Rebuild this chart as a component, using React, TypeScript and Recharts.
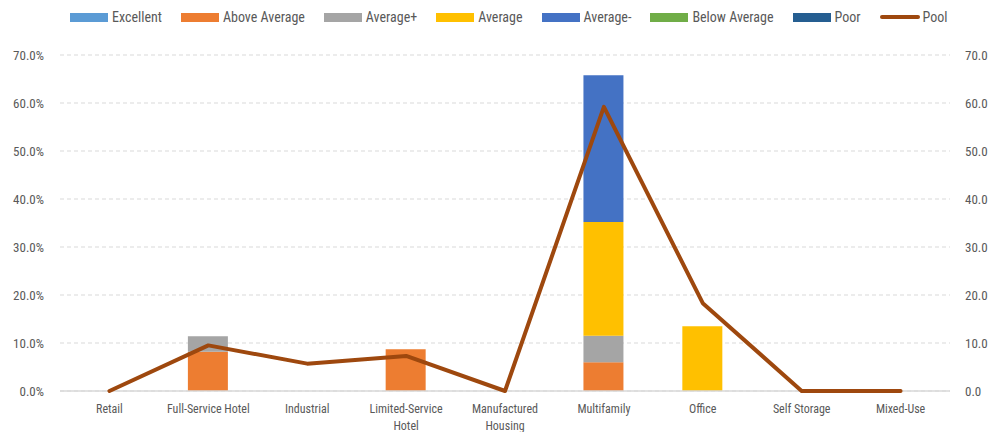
import React from "react";
import {
  ComposedChart,
  Bar,
  Line,
  XAxis,
  YAxis,
  CartesianGrid,
  ReferenceLine,
} from "recharts";

// Property types along the horizontal axis
const categories = [
  "Retail",
  "Full-Service Hotel",
  "Industrial",
  "Limited-Service Hotel",
  "Manufactured Housing",
  "Multifamily",
  "Office",
  "Self Storage",
  "Mixed-Use",
];

// Stacked rating shares (%), one value per category
const excellent = [0, 0, 0, 0, 0, 0, 0, 0, 0];
const aboveAverage = [0, 8.2, 0, 8.7, 0, 6.0, 0, 0, 0];
const averagePlus = [0, 3.2, 0, 0, 0, 5.5, 0, 0, 0];
const average = [0, 0, 0, 0, 0, 23.7, 13.5, 0, 0];
const averageMinus = [0, 0, 0, 0, 0, 30.6, 0, 0, 0];
const belowAverage = [0, 0, 0, 0, 0, 0, 0, 0, 0];
const poor = [0, 0, 0, 0, 0, 0, 0, 0, 0];

// Pool line, right axis
const pool = [0, 9.5, 5.7, 7.3, 0, 59.2, 18.3, 0, 0];

const leftTicks = [0, 10, 20, 30, 40, 50, 60, 70];
const rightTicks = [0, 10, 20, 30, 40, 50, 60, 70];

const series = [
  { key: "excellent", name: "Excellent", color: "#5B9BD5" },
  { key: "aboveAverage", name: "Above Average", color: "#ED7D31" },
  { key: "averagePlus", name: "Average+", color: "#A5A5A5" },
  { key: "average", name: "Average", color: "#FFC000" },
  { key: "averageMinus", name: "Average-", color: "#4472C4" },
  { key: "belowAverage", name: "Below Average", color: "#70AD47" },
  { key: "poor", name: "Poor", color: "#255E91" },
];
const poolColor = "#9E480E";

const data = categories.map((category, i) => ({
  category,
  excellent: excellent[i],
  aboveAverage: aboveAverage[i],
  averagePlus: averagePlus[i],
  average: average[i],
  averageMinus: averageMinus[i],
  belowAverage: belowAverage[i],
  poor: poor[i],
  pool: pool[i],
}));

const FONT =
  '"Liberation Sans Narrow", "Roboto Condensed", "DejaVu Sans Condensed", "Liberation Sans", sans-serif';
const TEXT = "#595959";

function wrapLabel(label: string): string[] {
  if (label.length <= 18) return [label];
  const idx = label.lastIndexOf(" ");
  return idx > 0 ? [label.slice(0, idx), label.slice(idx + 1)] : [label];
}

const CategoryTick = (props: any) => {
  const { x, y, payload } = props;
  const lines = wrapLabel(String(payload.value));
  return (
    <g transform={`translate(${x},${y})`}>
      {lines.map((line, i) => (
        <text
          key={i}
          x={0}
          y={14 + i * 17}
          textAnchor="middle"
          fill={TEXT}
          fontSize={12}
          fontFamily={FONT}
        >
          {line}
        </text>
      ))}
    </g>
  );
};

const LegendRow = () => (
  <div
    style={{
      position: "absolute",
      left: 70,
      top: 9,
      display: "flex",
      alignItems: "center",
      fontFamily: FONT,
      fontSize: 14,
      color: TEXT,
      whiteSpace: "nowrap",
    }}
  >
    {series.map((s) => (
      <div
        key={s.key}
        style={{ display: "flex", alignItems: "center", marginRight: 19 }}
      >
        <span
          style={{
            display: "inline-block",
            width: 38,
            height: 9,
            background: s.color,
            marginRight: 4,
          }}
        />
        <span>{s.name}</span>
      </div>
    ))}
    <div style={{ display: "flex", alignItems: "center" }}>
      <span
        style={{
          display: "inline-block",
          width: 40,
          height: 4,
          borderRadius: 2,
          background: poolColor,
          marginRight: 3,
        }}
      />
      <span>Pool</span>
    </div>
  </div>
);

export default function App() {
  return (
    <div
      style={{
        position: "absolute",
        left: 0,
        top: 0,
        width: 994,
        height: 432,
        background: "#ffffff",
        fontFamily: FONT,
      }}
    >
      <LegendRow />
      <ComposedChart
        width={994}
        height={432}
        data={data}
        margin={{ top: 55, right: 0, bottom: 0, left: 0 }}
      >
        <CartesianGrid
          vertical={false}
          stroke="#d9d9d9"
          strokeDasharray="4 3"
          yAxisId="left"
        />
        <XAxis
          dataKey="category"
          height={41}
          interval={0}
          tickLine={false}
          axisLine={false}
          tick={<CategoryTick />}
        />
        <YAxis
          yAxisId="left"
          orientation="left"
          width={60}
          domain={[0, 70]}
          ticks={leftTicks}
          tickFormatter={(v: number) => `${v.toFixed(1)}%`}
          axisLine={false}
          tickLine={false}
          tickSize={8}
          tickMargin={8}
          tick={{ fill: TEXT, fontSize: 13, fontFamily: FONT }}
        />
        <YAxis
          yAxisId="right"
          orientation="right"
          width={44}
          domain={[0, 70]}
          ticks={rightTicks}
          tickFormatter={(v: number) => v.toFixed(1)}
          axisLine={false}
          tickLine={false}
          tickSize={8}
          tickMargin={7}
          tick={{ fill: TEXT, fontSize: 13, fontFamily: FONT }}
        />
        {/* category axis baseline, kept beneath the series */}
        <ReferenceLine
          yAxisId="left"
          y={0}
          stroke="#d9d9d9"
          strokeWidth={1.5}
        />
        {series.map((s) => (
          <Bar
            key={s.key}
            yAxisId="left"
            dataKey={s.key}
            name={s.name}
            stackId="rating"
            fill={s.color}
            barSize={40}
            isAnimationActive={false}
          />
        ))}
        <Line
          yAxisId="right"
          type="linear"
          dataKey="pool"
          name="Pool"
          stroke={poolColor}
          strokeWidth={4}
          strokeLinecap="round"
          strokeLinejoin="round"
          dot={false}
          activeDot={false}
          isAnimationActive={false}
        />
      </ComposedChart>
    </div>
  );
}
